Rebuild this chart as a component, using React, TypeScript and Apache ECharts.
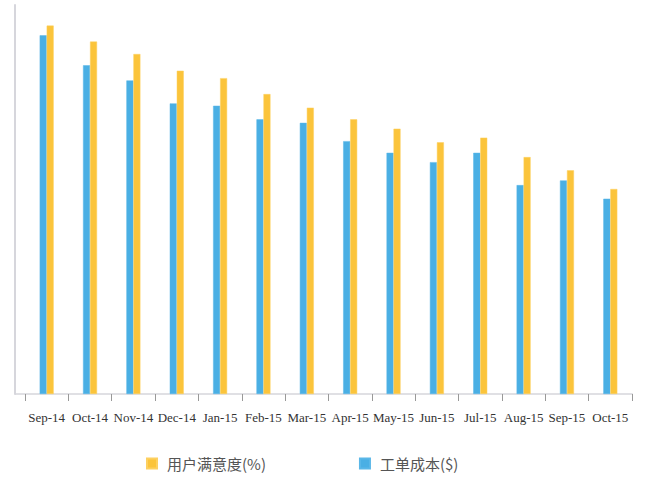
import React, { useEffect, useRef } from "react";
import * as echarts from "echarts";

const categories = ["Sep-14", "Oct-14", "Nov-14", "Dec-14", "Jan-15", "Feb-15", "Mar-15", "Apr-15", "May-15", "Jun-15", "Jul-15", "Aug-15", "Sep-15", "Oct-15"];
const satisfaction = [94.7, 90.6, 87.4, 83.1, 81.2, 77.1, 73.6, 70.6, 68.2, 64.7, 65.9, 60.9, 57.5, 52.7];
const cost = [92.2, 84.5, 80.6, 74.7, 74.1, 70.6, 69.7, 65.0, 62.0, 59.6, 62.0, 53.7, 54.9, 50.2];
const satisfactionName = "用户满意度(%)";
const costName = "工单成本($)";

export default function App() {
  const ref = useRef<HTMLDivElement>(null);
  useEffect(() => {
    if (!ref.current) return;
    const chart = echarts.init(ref.current, null, { renderer: "svg" });
    chart.setOption({
      animation: false,
      backgroundColor: "#ffffff",
      grid: { left: 25, right: 14, top: 5, bottom: 91, containLabel: false },
      legend: {
        data: [satisfactionName, costName],
        left: 146,
        top: 456,
        padding: 0,
        itemWidth: 10,
        itemHeight: 10,
        itemGap: 93,
        icon: "rect",
        textStyle: { fontFamily: "Noto Sans CJK SC", fontSize: 15, color: "#555", padding: [0, 0, 0, 5] },
      },
      xAxis: {
        type: "category",
        data: categories,
        axisLine: { show: true, lineStyle: { color: "#e0e0e4", width: 2 } },
        axisTick: { show: true, length: 7, lineStyle: { color: "#999" } },
        axisLabel: { fontFamily: "Liberation Serif", fontSize: 13, color: "#333", margin: 17, interval: 0 },
      },
      yAxis: {
        type: "value",
        min: 0,
        max: 100,
        offset: 10,
        axisLine: { show: true, lineStyle: { color: "#d6d6dc", width: 2 } },
        axisTick: { show: false },
        axisLabel: { show: false },
        splitLine: { show: false },
      },
      graphic: [
        { type: "line", shape: { x1: 15, y1: 394, x2: 26, y2: 394 }, style: { stroke: "#e0e0e4", lineWidth: 2 } },
      ],
      series: [
        {
          name: costName,
          type: "bar",
          data: cost,
          barWidth: 7,
          barGap: "0%",
          itemStyle: { color: "#4aafe4", borderColor: "#5ab7e8", borderWidth: 0.5 },
        },
        {
          name: satisfactionName,
          type: "bar",
          data: satisfaction,
          barWidth: 7,
          barGap: "0%",
          itemStyle: { color: "#fbc43b", borderColor: "#fdd060", borderWidth: 0.5 },
        },
      ],
    });
    return () => chart.dispose();
  }, []);
  return <div ref={ref} style={{ width: 646, height: 485, position: "absolute", left: 0, top: 0 }} />;
}
